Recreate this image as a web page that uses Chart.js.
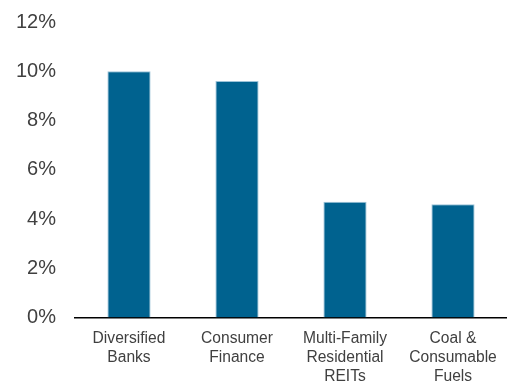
<!DOCTYPE html>
<html>
<head>
<meta charset="utf-8">
<script src="https://cdn.jsdelivr.net/npm/chart.js@4"></script>
<style>
  html, body { margin: 0; padding: 0; background: #fff; }
  #wrap { width: 507px; height: 381px; }
</style>
</head>
<body>
<div id="wrap"><canvas id="myChart"></canvas></div>
<script>
const categories = [
    ['Diversified', 'Banks'],
    ['Consumer', 'Finance'],
    ['Multi-Family', 'Residential', 'REITs'],
    ['Coal &', 'Consumable', 'Fuels']
]
const weights = [10.0, 9.6, 4.7, 4.6]
const yTicks = [0, 2, 4, 6, 8, 10, 12]

const ctx = document.getElementById('myChart')
const myChart = new Chart(ctx, {
    type: 'bar',
    data: {
        labels: categories,
        datasets: [{
            data: weights,
            backgroundColor: '#00628f',
            borderColor: '#9cc3d8',
            borderWidth: 1,
            barPercentage: 0.4,
            categoryPercentage: 1.0
        }]
    },
    options: {
        responsive: true,
        maintainAspectRatio: false,
        animation: false,
        layout: { padding: { top: 22, right: 0, left: 0, bottom: 0 } },
        plugins: { legend: { display: false }, tooltip: { enabled: false } },
        scales: {
            x: {
                grid: { display: false, drawTicks: false },
                border: { display: true, color: '#000', width: 1.5 },
                ticks: {
                    color: '#404040',
                    font: { family: 'Liberation Sans', size: 15.6, lineHeight: 1.22 },
                    padding: 12,
                    maxRotation: 0,
                    autoSkip: false
                },
                afterFit: axis => {
                    axis.height = 63.5
                    axis.paddingLeft = 0
                    axis.paddingRight = 0
                }
            },
            y: {
                min: 0,
                max: 12,
                afterBuildTicks: axis => { axis.ticks = yTicks.map(v => ({ value: v })) },
                grid: { display: false, drawTicks: false },
                border: { display: false },
                ticks: {
                    color: '#404040',
                    font: { family: 'Liberation Sans', size: 20 },
                    padding: 19,
                    callback: v => v + '%'
                },
                afterFit: axis => {
                    axis.width = 75
                    axis.paddingTop = 0
                    axis.paddingBottom = 0
                }
            }
        }
    }
})
</script>
</body>
</html>
